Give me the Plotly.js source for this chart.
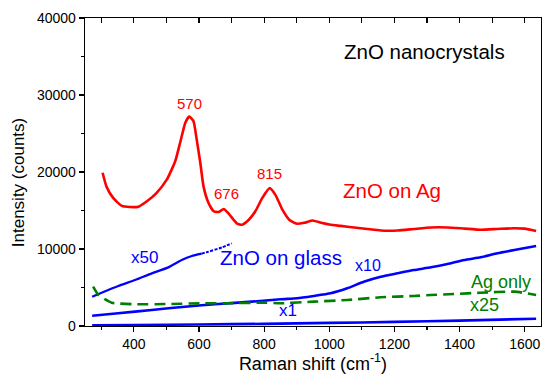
<!DOCTYPE html>
<html>
<head>
<meta charset="utf-8">
<script src="https://cdn.plot.ly/plotly-3.0.1.min.js"></script>
<style>
  html, body { margin: 0; padding: 0; background: #fff; }
  #chart { width: 543px; height: 374px; }
</style>
</head>
<body>
<div id="chart"></div>
<script>
// Raman spectra of ZnO nanocrystals (intensity in counts vs Raman shift in cm^-1)

// ZnO on Ag
const agShift = [304, 316, 337, 363, 388, 414, 440, 470, 501, 527, 542, 558, 570, 583, 593, 604, 614, 629, 645, 660,
                 676, 691, 706, 717, 732, 753, 773, 794, 817, 835, 856, 877, 898, 923, 949, 975, 1004, 1035, 1076, 1117,
                 1158, 1210, 1260, 1312, 1363, 1415, 1465, 1516, 1567, 1600, 1635];
const agCounts = [19900, 18100, 16600, 15600, 15450, 15500, 16200, 17300, 19000, 21400, 23800, 26400, 27200, 26600, 24200, 21200, 18100, 16000, 14900, 14800,
                  15200, 14600, 13800, 13300, 13150, 13800, 14900, 16600, 17900, 17000, 15100, 13800, 13300, 13400, 13700, 13400, 13150, 13000, 12800, 12600,
                  12400, 12400, 12600, 12800, 12800, 12650, 12500, 12600, 12700, 12650, 12350];

// ZnO on glass, scaled x50
const glass50Shift = [272, 301, 352, 404, 455, 506, 547, 578, 608, 629, 670, 701];
const glass50Counts = [3800, 4320, 5200, 5970, 6840, 7620, 8570, 9090, 9400, 9650, 10200, 10740];

// ZnO on glass, scaled x10
const glass10Shift = [272, 352, 455, 557, 660, 762, 850, 901, 952, 1004, 1055, 1106, 1158, 1209, 1260, 1312, 1363, 1414, 1465, 1516, 1568, 1635];
const glass10Counts = [1340, 1650, 2080, 2510, 2860, 3160, 3470, 3600, 3900, 4250, 4900, 5750, 6400, 6840, 7270, 7620, 8050, 8570, 8920, 9440, 9870, 10390];

// ZnO on glass, unscaled x1
const glass1Shift = [272, 400, 600, 800, 1000, 1200, 1400, 1635];
const glass1Counts = [80, 130, 200, 280, 400, 530, 700, 950];

// Ag only, scaled x25
const agOnlyShift = [275, 291, 332, 404, 506, 609, 681, 804, 850, 952, 1055, 1158, 1260, 1312, 1383, 1465, 1568, 1635];
const agOnlyCounts = [5100, 4030, 3030, 2820, 2860, 2950, 2950, 3030, 2950, 3160, 3380, 3730, 3900, 4030, 4160, 4320, 4460, 4030];

// Axis ticks
const xTickVals = [400, 600, 800, 1000, 1200, 1400, 1600];
const yTickVals = [0, 10000, 20000, 30000, 40000];

const RED = '#ff0000', BLUE = '#0000ff', GREEN = '#008000';
const FONT = '"Liberation Sans", Arial, sans-serif';

// the x50 trace turns into a dotted run past ~605 cm^-1
const split = glass50Shift.findIndex(v => v >= 605);

const traces = [
  { x: agShift, y: agCounts, mode: 'lines', line: { color: RED, width: 2.6, shape: 'spline', smoothing: 0.5 } },
  { x: glass50Shift.slice(0, split + 1), y: glass50Counts.slice(0, split + 1), mode: 'lines',
    line: { color: BLUE, width: 2.3, shape: 'spline', smoothing: 0.5 } },
  { x: glass50Shift.slice(split), y: glass50Counts.slice(split), mode: 'lines',
    line: { color: BLUE, width: 2, dash: '3px,1.5px', shape: 'spline', smoothing: 0.5 } },
  { x: glass10Shift, y: glass10Counts, mode: 'lines', line: { color: BLUE, width: 2.6, shape: 'spline', smoothing: 0.5 } },
  { x: glass1Shift, y: glass1Counts, mode: 'lines', line: { color: BLUE, width: 2.6, shape: 'spline', smoothing: 0.5 } },
  { x: agOnlyShift, y: agOnlyCounts, mode: 'lines', line: { color: GREEN, width: 2.6, dash: '11px,6px', shape: 'spline', smoothing: 0.5 } },
  // carries the top axis
  { x: [250, 1650], y: [0, 0], xaxis: 'x2', mode: 'lines', line: { width: 0 }, hoverinfo: 'skip' }
];

function note(text, x, y, color, size) {
  return { text: text, x: x, y: y, xref: 'x', yref: 'y', showarrow: false,
           xanchor: 'center', yanchor: 'middle', font: { family: FONT, size: size, color: color } };
}

const layout = {
  width: 543, height: 374,
  margin: { l: 85, r: 2, t: 18, b: 48 },
  paper_bgcolor: '#ffffff', plot_bgcolor: '#ffffff',
  showlegend: false,
  font: { family: FONT, color: '#000' },
  xaxis: {
    range: [250, 1650], tickmode: 'array', tickvals: xTickVals,
    ticks: 'outside', ticklen: 5, tickwidth: 1.2, tickcolor: '#000',
    minor: { dtick: 100, tick0: 0, ticks: 'outside', ticklen: 3, tickwidth: 1.2, tickcolor: '#000' },
    showline: true, linecolor: '#000', linewidth: 1.3, mirror: false,
    showgrid: false, zeroline: false,
    tickfont: { family: FONT, size: 14, color: '#000' },
    title: { text: 'Raman shift (cm<sup>-1</sup>)', font: { family: FONT, size: 18, color: '#000' }, standoff: 3 }
  },
  xaxis2: {
    overlaying: 'x', side: 'top', range: [250, 1650], dtick: 100, tick0: 0,
    ticks: 'inside', ticklen: 5, tickwidth: 1.2, tickcolor: '#000',
    showticklabels: false, showline: true, linecolor: '#000', linewidth: 1.3,
    showgrid: false, zeroline: false
  },
  yaxis: {
    range: [0, 40000], tickmode: 'array', tickvals: yTickVals, tickformat: 'd',
    ticks: 'outside', ticklen: 5, tickwidth: 1.2, tickcolor: '#000',
    minor: { dtick: 5000, tick0: 0, ticks: 'outside', ticklen: 3, tickwidth: 1.2, tickcolor: '#000' },
    showline: true, linecolor: '#000', linewidth: 1.3, mirror: true,
    showgrid: false, zeroline: false, exponentformat: 'none',
    tickfont: { family: FONT, size: 14, color: '#000' }
  },
  annotations: [
    { text: 'Intensity (counts)', xref: 'paper', yref: 'paper', x: -0.146, y: 0.465, textangle: -90,
      showarrow: false, xanchor: 'center', yanchor: 'middle', font: { family: FONT, size: 17, color: '#000' } },
    note('ZnO nanocrystals', 1291, 35700, '#000', 20.5),
    note('570', 572, 28960, RED, 15),
    note('676', 683, 17270, RED, 15),
    note('815', 815, 19870, RED, 15),
    note('ZnO on Ag', 1193, 17660, RED, 20.5),
    note('x50', 434, 8900, BLUE, 17),
    note('ZnO on glass', 853, 8960, BLUE, 20.5),
    note('x10', 1119, 7860, BLUE, 16),
    note('x1', 872, 1950, BLUE, 17),
    note('Ag only', 1527, 5710, GREEN, 18),
    note('x25', 1478, 2790, GREEN, 18)
  ]
};

Plotly.newPlot('chart', traces, layout, { displayModeBar: false, staticPlot: true });
</script>
</body>
</html>
